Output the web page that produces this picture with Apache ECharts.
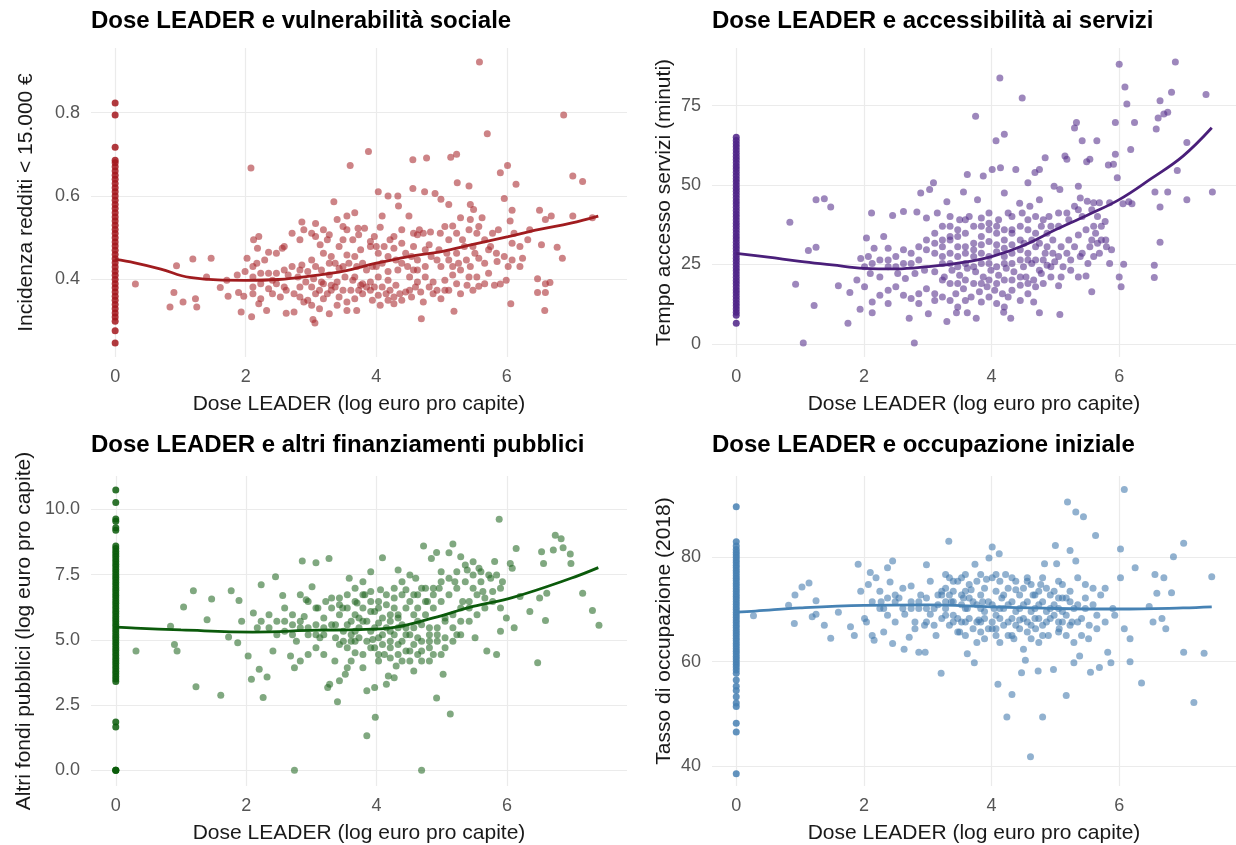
<!DOCTYPE html>
<html>
<head>
<meta charset="utf-8">
<script src="https://cdn.jsdelivr.net/npm/echarts@6/dist/echarts.min.js"></script>
<style>
html,body{margin:0;padding:0;background:#fff;}
#chart{width:1236px;height:845px;}
</style>
</head>
<body>
<div id="chart"></div>
<script>
// ---------------- DATA ----------------
const titles = [
  'Dose LEADER e vulnerabilità sociale',
  'Dose LEADER e accessibilità ai servizi',
  'Dose LEADER e altri finanziamenti pubblici',
  'Dose LEADER e occupazione iniziale'
];
const xAxisTitle = 'Dose LEADER (log euro pro capite)';
const yAxisTitles = [
  'Incidenza redditi < 15.000 €',
  'Tempo accesso servizi (minuti)',
  'Altri fondi pubblici (log euro pro capite)',
  'Tasso di occupazione (2018)'
];
const xTicks = [0, 2, 4, 6];
const tlYTicks = [0.4, 0.6, 0.8];
const trYTicks = [0, 25, 50, 75];
const blYTicks = [0, 2.5, 5, 7.5, 10];
const brYTicks = [40, 60, 80];

// values of the municipalities with zero LEADER dose (x = 0)
const tlZeroY = [0.823,0.794,0.717,0.277,0.248,0.30,0.31,0.32,0.33,0.34,0.35,0.36,0.37,0.38,0.39,0.40,0.41,0.42,0.43,0.44,0.45,0.46,0.47,0.48,0.49,0.50,0.51,0.52,0.53,0.54,0.55,0.56,0.57,0.58,0.59,0.60,0.61,0.62,0.63,0.64,0.65,0.66,0.67,0.68,0.686];
const trZeroY = [6.5,9,10,11,12,13,14,15,16,17,18,19,20,21,22,23,24,25,26,27,28,29,30,31,32,33,34,35,36,37,38,39,40,41,42,43,44,45,46,47,48,49,50,51,52,53,54,55,56,57,58,59,60,61,62,63,64,65];
const blZeroY = [10.74,10.26,9.63,9.55,9.3,9.2,1.85,1.66,0,0,0,3.4,3.5,3.6,3.7,3.8,3.9,4.0,4.1,4.2,4.3,4.4,4.5,4.6,4.7,4.8,4.9,5.0,5.1,5.2,5.3,5.4,5.5,5.6,5.7,5.8,5.9,6.0,6.1,6.2,6.3,6.4,6.5,6.6,6.7,6.8,6.9,7.0,7.1,7.2,7.3,7.4,7.5,7.6,7.7,7.8,7.9,8.0,8.1,8.2,8.3,8.4,8.5,8.6];
const brZeroY = [89.7,83.0,38.5,46.5,48.2,51.4,52.1,53.3,54.5,55.3,56.5,57.8,58.4,59,59.5,60,60.5,61,61.5,62,62.5,63,63.5,64,64.5,65,65.5,66,66.5,67,67.5,68,68.5,69,69.5,70,70.5,71,71.5,72,72.5,73,73.5,74,74.5,75,75.5,76,76.5,77,77.5,78,78.5,79,79.5,80,80.5,81,81.5,82.2];

const tlPoints = [[5.58,0.921],[6.87,0.794],[5.70,0.749],[3.88,0.707],[7.01,0.648],[7.16,0.635],[2.08,0.667],[3.60,0.673],[4.56,0.687],[4.77,0.691],[5.14,0.693],[5.23,0.70],[6.01,0.673],[5.90,0.656],[5.24,0.632],[5.42,0.624],[6.14,0.628],[4.03,0.61],[4.18,0.60],[4.33,0.60],[4.56,0.618],[4.74,0.61],[4.90,0.606],[4.99,0.592],[5.11,0.58],[5.44,0.58],[5.96,0.594],[6.08,0.566],[6.50,0.566],[7.01,0.552],[7.31,0.548],[3.35,0.586],[4.34,0.576],[4.09,0.552],[4.50,0.552],[5.49,0.568],[5.29,0.548],[6.59,0.544],[6.68,0.552],[5.62,0.548],[5.44,0.544],[5.17,0.528],[5.66,0.495],[5.87,0.519],[6.11,0.511],[6.05,0.54],[6.35,0.519],[6.53,0.483],[6.77,0.477],[6.85,0.451],[6.47,0.402],[6.59,0.39],[6.47,0.369],[6.59,0.369],[6.66,0.393],[6.58,0.326],[6.06,0.342],[6.02,0.431],[5.85,0.443],[6.24,0.451],[5.99,0.398],[5.90,0.389],[5.81,0.386],[5.57,0.384],[5.39,0.386],[5.23,0.39],[5.19,0.324],[4.69,0.306],[3.06,0.296],[3.03,0.304],[1.93,0.322],[2.09,0.311],[0.84,0.334],[1.04,0.346],[1.25,0.334],[0.90,0.369],[1.23,0.354],[0.31,0.389],[0.94,0.433],[1.19,0.449],[1.47,0.451],[1.40,0.406],[1.61,0.381],[1.73,0.36],[1.89,0.369],[1.97,0.36],[2.02,0.451],[2.12,0.495],[2.20,0.503],[2.18,0.475],[2.35,0.465],[2.56,0.475],[2.86,0.538],[3.07,0.534],[2.89,0.519],[3.07,0.503],[3.14,0.483],[3.28,0.507],[3.40,0.544],[3.55,0.519],[3.72,0.523],[3.82,0.523],[3.97,0.503],[4.06,0.525],[4.21,0.495],[4.27,0.503],[4.39,0.519],[4.63,0.507],[4.72,0.511],[4.83,0.514],[4.98,0.511],[5.05,0.527],[5.57,0.527],[5.32,0.495],[5.48,0.479],[5.51,0.463],[5.57,0.451],[5.72,0.471],[5.66,0.439],[5.44,0.431],[5.29,0.423],[5.17,0.411],[4.99,0.431],[4.84,0.455],[4.75,0.471],[4.57,0.479],[4.45,0.463],[4.30,0.447],[4.18,0.455],[4.03,0.463],[3.91,0.479],[3.76,0.471],[3.67,0.455],[3.55,0.459],[3.43,0.479],[3.31,0.455],[3.19,0.463],[3.01,0.447],[2.86,0.435],[2.71,0.431],[2.59,0.423],[2.47,0.415],[2.35,0.415],[2.23,0.415],[2.11,0.406],[1.99,0.419],[1.87,0.411],[1.71,0.398],[2.47,0.39],[2.62,0.374],[2.74,0.366],[2.83,0.358],[2.95,0.35],[3.07,0.366],[3.19,0.354],[3.31,0.374],[3.43,0.358],[3.55,0.346],[3.67,0.354],[3.79,0.366],[3.91,0.374],[4.03,0.362],[4.15,0.366],[4.27,0.358],[4.39,0.35],[4.54,0.358],[4.68,0.37],[4.72,0.346],[4.87,0.366],[4.99,0.354],[4.27,0.342],[3.55,0.326],[3.70,0.326],[3.28,0.318],[2.74,0.322],[2.62,0.319],[2.32,0.326],[2.20,0.342],[2.23,0.354],[2.11,0.366],[2.41,0.366],[2.53,0.358],[2.89,0.346],[3.01,0.338],[3.13,0.33],[3.40,0.338],[3.94,0.35],[4.06,0.338],[4.18,0.35],[4.45,0.37],[4.30,0.386],[4.18,0.398],[4.03,0.406],[3.91,0.394],[3.76,0.386],[3.64,0.398],[3.52,0.406],[3.40,0.394],[3.28,0.411],[3.16,0.394],[3.04,0.402],[2.92,0.394],[2.80,0.406],[4.51,0.406],[4.63,0.394],[4.75,0.406],[4.87,0.394],[5.05,0.398],[4.63,0.423],[4.48,0.431],[4.33,0.423],[4.18,0.419],[4.00,0.431],[3.85,0.423],[3.70,0.431],[3.58,0.439],[3.43,0.427],[3.28,0.439],[3.16,0.423],
[3.25,0.495],[3.49,0.495],[3.64,0.495],[3.73,0.507],[3.91,0.491],[4.00,0.479],[4.12,0.479],[4.27,0.475],[4.39,0.487],[4.57,0.511],[4.66,0.519],[4.81,0.483],[4.96,0.471],[5.08,0.463],[5.26,0.439],[5.38,0.447],[4.93,0.447],[4.63,0.447],[4.54,0.455],[4.39,0.439],[4.09,0.439],[3.94,0.431],[3.79,0.439],[3.37,0.439],[3.49,0.431],[3.07,0.431],[2.95,0.419],[2.83,0.423],[2.65,0.411],[2.41,0.398],[2.23,0.39],[2.11,0.382],[2.35,0.378],[2.59,0.382],[2.83,0.382],[3.01,0.382],[3.13,0.374],[3.25,0.366],[3.37,0.382],[3.49,0.374],[3.61,0.374],[3.73,0.374],[3.85,0.382],[3.97,0.382],[4.09,0.382],[4.21,0.374],[4.36,0.366],[4.51,0.374],[4.60,0.382],[4.81,0.382],[4.93,0.374],[5.11,0.374],[5.29,0.366],[5.48,0.374],[5.66,0.39],[5.72,0.415],[5.54,0.406],[5.42,0.406],[5.17,0.431],[5.11,0.447],[5.23,0.463],[5.35,0.479],[5.78,0.511],[5.75,0.479],[5.84,0.463],[5.96,0.455],[6.08,0.447],[6.20,0.431],[6.20,0.479],[6.32,0.495],[6.08,0.487],[5.54,0.511],[5.42,0.519],[5.23,0.511],[5.11,0.495],[3.55,0.552],[3.67,0.56],[3.49,0.527],[3.19,0.519],[3.01,0.511],[2.83,0.495],[2.71,0.511],[2.59,0.479],[2.47,0.463],[2.29,0.447],[2.17,0.439],[2.11,0.431],[3.67,0.406],[4.57,0.423],[4.75,0.431],[3.19,0.39],[3.31,0.386],[3.79,0.39],[5.05,0.374]];

const trPoints = [[1.05,0.3],[2.79,0.3],[1.75,6.5],[3.30,7.1],[3.76,8.1],[4.30,8.1],[4.75,9.8],[5.07,9.3],[2.71,8.1],[2.13,9.8],[1.94,10.9],[3.01,9.5],[3.45,9.8],[3.62,9.8],[4.19,10.0],[4.66,13.2],[1.22,12.1],[0.93,18.8],[1.60,18.3],[1.78,16.2],[0.84,38.3],[1.25,45.4],[1.38,45.7],[1.48,43.1],[1.13,29.4],[1.25,30.4],[2.12,41.2],[2.45,40.4],[2.89,47.5],[3.09,50.7],[3.03,48.6],[3.30,44.7],[2.62,41.7],[2.83,41.5],[2.98,39.6],[3.15,41.2],[3.56,47.8],[3.62,53.3],[3.75,71.6],[3.87,52.8],[4.01,54.9],[4.14,55.4],[4.07,63.9],[4.13,83.7],[4.20,66.0],[4.48,77.4],[4.38,54.9],[4.57,50.7],[4.68,53.9],[4.75,54.9],[4.84,58.6],[4.98,49.6],[5.07,48.6],[5.15,59.1],[5.18,58.1],[5.30,67.9],[5.33,69.7],[5.42,63.9],[5.65,63.9],[5.49,57.3],[5.54,58.1],[5.36,49.6],[5.39,45.9],[5.50,44.9],[5.60,44.4],[5.83,56.3],[5.91,56.5],[5.94,59.7],[5.94,69.7],[6.00,88.0],[5.97,52.3],[6.09,80.8],[6.12,75.5],[6.18,61.2],[6.24,69.7],[6.15,44.7],[6.20,44.1],[6.58,67.6],[6.64,76.5],[6.61,71.1],[6.70,72.3],[6.76,72.9],[6.82,79.2],[6.88,88.7],[6.91,54.6],[6.76,47.8],[6.56,47.8],[6.64,43.1],[7.06,45.4],[7.06,63.4],[7.36,78.5],[7.46,47.8],[6.06,44.1],[6.64,32.0],[6.55,24.8],[6.55,20.9],[6.07,25.1],[6.03,18.0],[6.00,21.1],[5.85,25.3],[5.88,29.6],[5.80,30.6],[5.78,38.5],[5.66,40.1],[5.57,32.7],[5.60,27.5],[5.57,16.4],[5.48,21.4],[5.36,21.1],[5.24,23.2],[5.09,21.1],[5.05,18.3],[4.93,21.1],[4.78,22.2],[4.66,20.1],[4.54,21.1],[4.45,18.5],[4.32,16.9],[4.26,14.8],[4.17,15.8],[4.05,16.9],[3.93,18.0],[3.81,16.4],[3.68,14.8],[3.56,17.4],[3.44,15.8],[3.35,13.7],[3.23,14.8],[3.11,15.8],[2.98,17.4],[2.86,15.8],[2.74,14.3],[2.62,15.3],[2.50,18.0],[2.38,16.9],[2.25,15.3],[2.13,13.2],[2.38,12.7],[2.01,18.0],[1.89,20.1],[2.10,22.2],[2.25,21.1],[2.38,24.3],[2.53,22.2],[2.65,20.6],[2.80,22.2],[2.95,23.2],[3.11,22.7],[3.26,21.1],[3.38,23.2],[3.50,21.6],[3.62,23.8],[3.75,22.7],[3.87,21.1],[3.99,23.2],[4.11,21.6],[4.23,23.8],[4.35,22.7],[4.50,24.3],[4.63,25.3],[4.75,23.2],[4.87,24.8],[4.99,25.9],[5.12,24.3],[5.24,26.4],[5.39,27.5],[5.51,25.3],[5.69,28.5],[5.72,32.7],[5.63,34.8],[5.48,35.9],[5.36,34.3],[5.21,32.7],[5.09,30.6],[4.96,32.7],[4.87,34.8],[4.78,37.0],[4.69,34.8],[4.57,35.9],[4.45,32.7],[4.32,34.8],[4.20,32.7],[4.08,34.8],[3.96,35.9],[3.84,33.8],[3.72,31.7],[3.59,34.8],[3.47,35.9],[3.35,33.8],[3.23,37.0],[3.11,34.8],[2.98,32.7],[2.86,30.6],[2.74,28.5],[2.62,29.6],[2.50,27.5],[2.38,30.1],[2.31,33.8],[2.16,30.1],[2.07,27.5],[1.95,26.9],[2.04,33.3],[4.45,29.6],[4.57,28.5],[4.69,30.6],[4.84,28.5],[4.96,28.5],[4.32,28.5],[4.20,27.5],[4.08,29.0],[3.96,27.5],[3.84,28.5],[3.72,27.5],[3.59,28.5],[3.47,27.5],[3.35,28.5],[3.23,27.5],[3.11,28.5],[4.32,40.1],[4.48,41.2],[4.60,43.3],[4.75,45.4],[4.44,44.3],[4.26,41.2],[4.11,39.1],[3.96,41.2],[3.84,39.6],[3.65,40.1],[3.50,39.1],[3.35,40.1],[3.78,45.4],[4.20,47.5],[4.90,40.1],[5.05,41.2],[5.21,39.1],[5.36,42.2],[5.57,42.2],[5.69,44.4],[5.85,44.4],
[3.23,30.6],[3.35,32.7],[3.47,30.6],[3.59,30.6],[3.72,29.6],[3.84,31.2],[3.96,32.2],[4.08,31.2],[4.20,30.1],[4.32,31.2],[4.51,31.7],[4.63,32.7],[4.75,31.7],[4.87,30.6],[5.05,27.5],[5.18,28.5],[5.30,30.6],[5.42,28.5],[5.54,30.6],[5.66,31.7],[5.79,32.7],[5.72,37.0],[5.60,37.0],[5.42,40.1],[5.30,43.3],[5.18,41.2],[5.05,37.0],[4.93,37.0],[4.81,39.1],[4.69,40.1],[4.57,39.1],[4.45,37.0],[4.32,35.9],[4.20,35.9],[4.08,37.0],[3.96,38.0],[3.84,37.0],[3.72,37.0],[3.59,39.1],[3.47,33.8],[3.35,37.0],[3.23,32.7],[3.11,31.7],[2.98,29.6],[2.86,26.4],[2.74,25.3],[2.62,25.3],[2.50,24.3],[2.38,26.4],[2.25,26.4],[2.13,25.3],[2.01,24.3],[3.23,25.3],[3.35,25.3],[3.47,24.3],[3.59,25.3],[3.72,24.3],[3.84,25.3],[3.96,25.3],[4.08,24.3],[4.20,25.3],[4.32,25.3],[4.45,26.4],[4.57,26.4],[4.69,26.4],[4.81,26.4],[4.93,24.3],[3.23,20.1],[3.35,19.0],[3.47,19.0],[3.59,20.1],[3.72,19.0],[3.84,19.0],[3.96,20.1],[4.08,19.0],[4.20,20.1],[4.32,20.1],[4.45,21.1],[4.57,19.0],[4.69,18.0],[4.81,19.0],[3.59,13.7],[3.84,13.2],[3.96,14.8],[4.08,12.7],[4.45,13.7],[4.57,15.8],[3.47,11.6],[3.11,13.7],[2.86,12.7],[4.20,11.6]];

const blPoints = [[0.31,4.57],[0.90,4.82],[0.94,4.57],[0.84,5.52],[1.04,6.26],[1.19,6.88],[1.23,3.20],[1.40,5.77],[1.47,6.57],[1.61,2.88],[1.73,5.11],[1.77,6.88],[1.87,4.89],[1.89,6.51],[1.93,5.71],[2.03,4.38],[2.08,3.49],[2.11,6.03],[2.17,5.46],[2.23,7.11],[2.20,3.87],[2.26,2.79],[2.32,3.58],[2.41,4.57],[2.45,7.42],[2.56,6.70],[2.59,5.71],[2.68,4.38],[2.74,3.93],[2.77,4.95],[2.86,8.02],[2.89,5.90],[2.92,6.54],[3.01,7.04],[3.07,7.96],[3.10,6.22],[3.13,5.08],[3.19,4.44],[3.22,6.47],[3.27,8.12],[3.28,3.30],[3.31,5.58],[3.36,4.19],[3.40,2.63],[3.43,6.60],[3.48,6.22],[3.52,3.68],[3.58,7.36],[3.61,5.20],[3.67,4.51],[3.70,6.41],[3.73,5.84],[3.79,3.93],[3.82,6.73],[3.85,3.05],[3.85,1.33],[3.91,7.61],[3.94,5.01],[3.98,2.03],[4.03,5.65],[4.06,6.92],[4.09,8.15],[4.12,4.44],[4.18,3.62],[4.21,5.33],[4.27,6.22],[4.30,4.00],[4.33,7.68],[4.39,5.58],[4.45,6.92],[4.51,4.57],[4.57,5.96],[4.60,7.36],[4.63,5.08],[4.69,0.0],[4.69,4.19],[4.72,8.60],[4.78,6.47],[4.81,5.46],[4.84,8.12],[4.87,4.44],[4.92,8.35],[4.92,2.77],[4.96,6.98],[4.99,7.61],[5.02,3.68],[5.05,5.84],[5.11,8.34],[5.17,8.67],[5.13,2.16],[5.20,7.23],[5.23,5.20],[5.29,8.19],[5.32,6.47],[5.39,7.68],[5.42,5.71],[5.48,7.49],[5.51,5.08],[5.57,7.74],[5.63,6.85],[5.69,4.57],[5.75,7.36],[5.81,8.00],[5.84,4.44],[5.88,9.62],[5.90,5.33],[5.93,7.23],[5.99,5.84],[6.05,7.93],[6.08,7.74],[6.11,5.46],[6.14,8.50],[6.20,6.66],[6.35,6.09],[6.47,4.12],[6.50,6.60],[6.53,8.38],[6.56,7.93],[6.59,5.74],[6.61,6.79],[6.71,8.44],[6.74,9.01],[6.83,8.88],[6.86,8.53],[6.97,8.29],[6.98,7.93],[7.16,6.79],[7.31,6.13],[7.41,5.56],[2.74,0.0],[3.43,5.96],[3.55,5.58],[3.67,5.33],[3.79,5.71],[3.91,5.33],[4.03,5.08],[4.15,5.46],[4.27,5.20],[4.39,4.95],[4.51,5.20],[4.63,5.71],[4.75,5.96],[4.87,6.22],[4.99,6.47],[5.11,6.73],[5.23,6.98],[5.36,7.23],[5.48,6.98],[5.60,7.23],[5.72,7.49],[3.31,6.22],[3.19,5.84],[3.07,5.58],[2.95,5.20],[2.83,5.46],[2.71,5.96],[2.59,6.22],[2.47,5.20],[2.35,5.46],[2.23,5.71],[3.55,6.73],[3.67,6.98],[3.79,7.23],[3.91,6.85],[4.03,6.47],[4.15,6.73],[4.27,6.98],[4.39,7.23],[4.51,7.49],[4.63,6.73],[4.75,6.98],[4.87,6.73],[3.43,4.82],[3.55,4.70],[3.67,4.95],[3.91,4.70],[4.03,4.44],[4.21,4.70],[4.33,4.44],[4.51,4.19],[4.57,3.81],[4.69,4.57],[4.81,4.70],[4.93,4.95],[5.05,4.70],[5.17,5.46],[5.29,5.71],[5.42,6.22],[5.54,5.96],[5.66,6.22],[5.78,6.47],[5.90,6.22],[3.55,3.93],[3.43,3.43],[3.25,3.17],[4.15,3.30],[4.27,3.55],[3.97,3.17],[3.19,5.20],[3.07,4.70],[2.95,4.44],[2.83,4.19],[2.71,5.20],[4.33,5.84],[4.45,5.46],[3.97,6.09],[4.09,5.84],[3.79,6.22],[3.67,5.96],
[3.37,5.58],[3.49,5.33],[3.61,5.71],[3.73,5.46],[3.85,5.71],[3.97,5.46],[4.09,5.20],[4.21,5.71],[4.33,5.46],[4.45,5.20],[4.57,5.46],[4.69,5.58],[4.81,5.20],[4.93,5.46],[5.05,5.71],[5.17,5.96],[5.29,6.22],[5.42,6.47],[5.54,6.73],[5.66,6.60],[5.78,6.85],[5.90,6.98],[3.37,5.08],[3.49,4.95],[3.61,4.95],[3.73,5.08],[3.85,4.95],[3.97,4.70],[4.09,4.82],[4.21,4.95],[4.33,4.82],[4.45,4.57],[4.57,4.82],[4.69,4.95],[4.81,4.95],[4.93,5.20],[5.05,5.08],[5.17,4.95],[5.29,5.20],[3.31,6.60],[3.43,6.35],[3.55,6.22],[3.67,6.47],[3.79,6.73],[3.91,6.47],[4.03,6.22],[4.15,6.35],[4.27,6.60],[4.39,6.73],[4.51,6.47],[4.63,6.22],[4.75,6.47],[4.87,6.98],[4.99,7.23],[5.11,7.36],[5.23,7.61],[5.36,7.87],[5.48,7.99],[5.60,7.61],[5.84,7.49],[4.57,6.73],[4.69,6.98],[4.45,6.22],[4.33,5.96],[4.21,5.96],[3.91,6.09],[3.19,5.46],[3.07,5.20],[2.95,5.46],[2.83,5.71],[2.71,5.58],[2.59,5.33],[2.47,5.71],[2.35,5.96],[3.07,6.22],[2.95,6.47],[2.83,6.73],[4.03,4.19],[4.21,4.31],[4.39,4.19],[4.63,4.44],[4.81,4.19],[4.99,4.44],[3.79,4.44],[3.61,4.19]];

const brPoints = [[0.27,68.8],[0.91,67.3],[0.82,70.8],[0.92,72.8],[1.03,74.3],[1.14,75.1],[1.19,68.6],[1.25,69.1],[1.25,71.7],[1.38,67.0],[1.48,64.5],[1.60,69.5],[1.79,66.7],[1.85,65.0],[1.91,78.7],[1.95,73.5],[2.01,68.3],[2.04,67.6],[2.10,77.1],[2.07,74.8],[2.13,65.0],[2.16,64.1],[2.19,76.1],[2.25,73.5],[2.27,71.5],[2.31,65.7],[2.37,78.0],[2.41,75.3],[2.45,79.3],[2.45,63.5],[2.49,71.5],[2.55,72.2],[2.63,62.4],[2.64,69.1],[2.71,64.7],[2.74,74.5],[2.80,67.6],[2.86,61.8],[2.89,72.8],[2.95,67.0],[2.96,61.8],[2.98,78.6],[3.04,75.4],[3.10,70.2],[3.13,65.0],[3.21,57.8],[3.22,73.5],[3.28,76.7],[3.33,83.1],[3.37,71.5],[3.40,67.6],[3.47,75.4],[3.50,65.7],[3.56,72.2],[3.62,70.2],[3.62,61.5],[3.68,73.8],[3.73,59.8],[3.74,78.7],[3.80,68.0],[3.86,71.5],[3.92,75.8],[3.96,79.9],[4.01,82.0],[4.01,66.3],[4.04,70.2],[4.10,55.7],[4.12,80.7],[4.16,72.2],[4.22,76.7],[4.24,49.4],[4.32,53.7],[4.35,64.4],[4.38,73.8],[4.44,68.0],[4.47,57.9],[4.50,62.4],[4.53,60.3],[4.56,76.1],[4.61,41.8],[4.65,72.8],[4.69,66.3],[4.73,58.2],[4.77,74.8],[4.80,49.4],[4.83,78.8],[4.89,65.0],[4.92,70.2],[4.97,58.5],[5.00,82.3],[5.02,78.8],[5.06,66.3],[5.11,72.2],[5.17,53.5],[5.19,90.6],[5.23,81.3],[5.26,67.6],[5.29,59.8],[5.32,88.7],[5.32,79.3],[5.38,61.1],[5.44,87.8],[5.47,74.8],[5.52,64.4],[5.55,58.0],[5.63,84.2],[5.65,68.9],[5.69,58.9],[5.78,74.1],[5.82,61.8],[5.87,59.8],[5.93,68.9],[6.02,81.6],[6.02,76.1],[6.08,93.0],[6.08,66.3],[6.17,60.0],[6.17,64.4],[6.25,78.0],[6.35,55.9],[6.47,70.6],[6.53,67.6],[6.56,76.7],[6.59,73.1],[6.67,68.3],[6.70,76.1],[6.73,66.3],[6.85,80.1],[6.82,73.2],[7.01,61.8],[7.01,82.7],[7.17,52.2],[7.33,61.6],[7.45,76.3],[3.16,72.8],[3.28,71.5],[3.40,73.5],[3.53,72.8],[3.59,70.2],[3.71,71.5],[3.83,70.2],[3.95,71.5],[4.07,68.9],[4.19,70.2],[4.32,71.5],[4.44,70.2],[4.56,71.5],[4.68,70.2],[4.80,71.5],[4.92,72.8],[5.05,70.2],[5.17,68.9],[5.29,70.2],[5.41,68.3],[5.53,67.0],[5.65,66.3],[5.78,67.6],[5.90,70.2],[3.22,68.3],[3.34,67.0],[3.47,68.3],[3.59,67.6],[3.71,66.3],[3.83,67.6],[3.95,66.3],[4.07,65.0],[4.19,67.0],[4.32,68.3],[4.44,66.3],[4.56,67.6],[4.68,68.3],[4.80,67.0],[4.92,68.3],[5.05,67.6],[5.17,65.0],[5.29,63.7],[5.41,65.0],[3.28,74.1],[3.40,75.4],[3.53,76.1],[3.65,74.8],[3.77,75.4],[3.89,74.1],[4.01,76.1],[4.13,75.4],[4.26,74.1],[4.38,75.4],[4.50,74.1],[4.62,74.8],[4.74,73.5],[4.86,74.1],[4.98,73.5],[5.11,74.8],[5.23,73.5],[5.35,76.1],[5.47,72.2],[5.59,74.1],[5.71,72.8],[2.74,71.5],[2.86,70.2],[2.98,72.2],[2.61,74.1],[2.49,67.6],[2.37,68.9],[2.31,70.2],[3.04,69.1],[3.10,67.0],[4.13,63.7],[4.26,65.0],[3.89,64.4],[3.77,63.7],[4.62,64.4],[4.74,63.7],
[3.16,70.9],[3.28,70.2],[3.40,71.5],[3.53,70.9],[3.65,72.2],[3.77,70.9],[3.89,69.6],[4.01,70.9],[4.13,70.2],[4.26,70.9],[4.38,69.6],[4.50,70.9],[4.62,69.6],[4.74,70.9],[4.86,69.6],[4.98,70.9],[5.11,69.6],[5.23,71.5],[5.35,70.9],[5.47,70.2],[5.59,70.9],[3.22,72.8],[3.34,72.8],[3.59,73.5],[3.83,72.8],[4.07,73.5],[4.19,72.8],[4.44,72.8],[4.68,72.8],[5.05,72.2],[5.17,72.2],[3.28,68.9],[3.40,68.9],[3.53,67.6],[3.65,68.3],[3.77,67.6],[3.89,68.3],[4.01,67.6],[4.13,68.3],[4.26,67.6],[4.38,67.0],[4.50,68.3],[4.62,67.0],[4.74,68.3],[4.86,67.6],[4.98,68.9],[5.11,67.6],[5.23,67.0],[5.35,67.6],[3.47,65.7],[3.59,65.0],[3.83,65.7],[4.07,66.3],[4.32,65.0],[4.56,65.7],[4.80,65.0],[5.05,65.7],[3.34,76.1],[3.59,76.7],[3.83,76.7],[4.07,76.7],[4.32,76.1],[4.56,75.4],[4.80,76.1],[5.05,75.4],[2.98,70.2],[2.86,71.5],[2.74,70.2],[2.61,70.2],[2.49,72.8],[2.37,72.2],[2.25,70.2],[2.13,71.5],[2.98,67.6],[2.80,66.3]];

// smoothed trend lines
const tlTrend = [[0,0.448],[0.3,0.44],[0.7,0.425],[1.14,0.405],[2.0,0.398],[2.5,0.40],[3.07,0.41],[3.5,0.42],[4.0,0.439],[4.5,0.455],[5.0,0.467],[5.5,0.485],[6.02,0.503],[6.5,0.52],[6.98,0.535],[7.4,0.552]];
const trTrend = [[0,28.5],[0.5,27.3],[1.0,26.0],[1.5,24.9],[2.0,23.8],[2.5,23.6],[3.0,24.3],[3.5,25.5],[4.0,27.5],[4.5,31.0],[5.0,35.9],[5.5,40.5],[6.0,45.4],[6.5,52.0],[7.0,59.1],[7.45,68.0]];
const blTrend = [[0,5.49],[0.3,5.45],[1.0,5.38],[2.1,5.30],[3.07,5.37],[3.67,5.39],[4.27,5.48],[4.87,5.84],[5.48,6.28],[6.08,6.62],[6.98,7.36],[7.4,7.77]];
const brTrend = [[0,69.5],[0.3,69.7],[1.0,70.3],[2.0,70.8],[3.0,70.9],[4.0,70.5],[5.0,70.2],[6.0,70.1],[7.0,70.3],[7.45,70.5]];

// ---------------- CHART ----------------
const FONT = "'Liberation Sans', Arial, sans-serif";
const panels = [
  {grid:{left:91, top:48, width:536, height:309}, xr:[-0.37,7.84], yr:[0.2143,0.9547], yt:tlYTicks, fmt:v=>String(v), pts:tlPoints, zero:tlZeroY, trend:tlTrend, pc:'#A92A2E', zc:'#A3161C', lc:'#A01C1F', nameGap:54},
  {grid:{left:712, top:48, width:534, height:309}, xr:[-0.38,7.83], yr:[-4.1,93.1], yt:trYTicks, fmt:v=>String(v), pts:trPoints, zero:trZeroY, trend:trTrend, pc:'#56308C', zc:'#4E2287', lc:'#4A1F7A', nameGap:37},
  {grid:{left:91, top:476, width:536, height:310}, xr:[-0.38,7.84], yr:[-0.6,11.28], yt:blYTicks, fmt:v=>v.toFixed(1), pts:blPoints, zero:blZeroY, trend:blTrend, pc:'#256925', zc:'#0A5C0A', lc:'#0B5A0B', nameGap:56},
  {grid:{left:712, top:476, width:534, height:310}, xr:[-0.38,7.83], yr:[36.17,95.6], yt:brYTicks, fmt:v=>String(v), pts:brPoints, zero:brZeroY, trend:brTrend, pc:'#4279AC', zc:'#4680B3', lc:'#4682B4', nameGap:37}
];

const option = {
  animation:false,
  backgroundColor:'#ffffff',
  title: panels.map((p,i)=>({
    text: titles[i],
    left: p.grid.left, top: i<2 ? 9 : 433, padding:0,
    textStyle:{fontFamily:FONT, fontSize:24, fontWeight:'bold', color:'#000'}
  })),
  grid: panels.map(p=>p.grid),
  xAxis: panels.map((p,i)=>({
    type:'value', gridIndex:i, min:p.xr[0], max:p.xr[1],
    name:xAxisTitle, nameLocation:'middle', nameGap:37,
    nameTextStyle:{fontFamily:FONT, fontSize:21, color:'#1a1a1a'},
    axisLine:{show:false},
    axisTick:{show:false, customValues:xTicks},
    axisLabel:{customValues:xTicks, fontFamily:FONT, fontSize:18, color:'#555', margin:11},
    splitLine:{show:true, lineStyle:{color:'#EBEBEB', width:1.2}}
  })),
  yAxis: panels.map((p,i)=>({
    type:'value', gridIndex:i, min:p.yr[0], max:p.yr[1],
    name:yAxisTitles[i], nameLocation:'middle', nameGap:p.nameGap,
    nameTextStyle:{fontFamily:FONT, fontSize:21, color:'#1a1a1a'},
    axisLine:{show:false},
    axisTick:{show:false, customValues:p.yt},
    axisLabel:{customValues:p.yt, formatter:p.fmt, fontFamily:FONT, fontSize:18, color:'#555', margin:11},
    splitLine:{show:true, lineStyle:{color:'#EBEBEB', width:1.2}}
  })),
  series: []
};
panels.forEach((p,i)=>{
  option.series.push({
    type:'scatter', xAxisIndex:i, yAxisIndex:i, symbolSize:7,
    data: p.zero.map(y=>[0,y]),
    itemStyle:{color:p.zc, opacity:0.85}, silent:true
  });
  option.series.push({
    type:'scatter', xAxisIndex:i, yAxisIndex:i, symbolSize:7,
    data: p.pts,
    itemStyle:{color:p.pc, opacity:0.58}, silent:true
  });
  option.series.push({
    type:'line', xAxisIndex:i, yAxisIndex:i, smooth:0.4, showSymbol:false,
    data: p.trend,
    lineStyle:{color:p.lc, width:2.8}, silent:true
  });
});

const chart = echarts.init(document.getElementById('chart'), null, {renderer:'canvas'});
chart.setOption(option);
</script>
</body>
</html>
